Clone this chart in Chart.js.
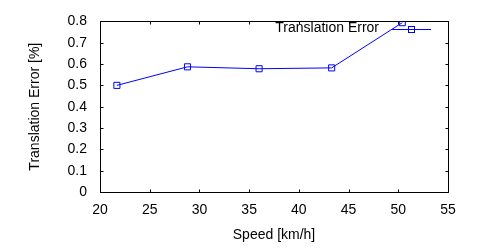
<!DOCTYPE html>
<html>
<head>
<meta charset="utf-8">
<script src="https://cdn.jsdelivr.net/npm/chart.js@4/dist/chart.umd.min.js"></script>
<style>
html,body{margin:0;padding:0;background:#fff;}
#wrap{width:500px;height:250px;}
</style>
</head>
<body>
<div id="wrap"><canvas id="c" width="500" height="250"></canvas></div>
<script>
const speeds = [21.7, 28.8, 36.0, 43.3, 50.4];
const errors = [0.50, 0.587, 0.578, 0.582, 0.794];
const seriesName = 'Translation Error';
const xTicks = [20, 25, 30, 35, 40, 45, 50, 55];
const yTicks = [0, 0.1, 0.2, 0.3, 0.4, 0.5, 0.6, 0.7, 0.8];
const xTitle = 'Speed [km/h]';
const yTitle = 'Translation Error [%]';

const FONT = 'Liberation Sans, Arial, Helvetica, sans-serif';
const FS = 14;
const BLUE = '#0000ff';

const framePlugin = {
  id: 'frame',
  afterDraw(chart) {
    const ctx = chart.ctx;
    const a = chart.chartArea;
    const xs = chart.scales.x, ys = chart.scales.y;
    ctx.save();
    ctx.strokeStyle = '#000';
    ctx.lineWidth = 1;
    const L = Math.round(a.left) + 0.5, R = Math.round(a.right) + 0.5;
    const T = Math.round(a.top) + 0.5, B = Math.round(a.bottom) + 0.5;
    ctx.beginPath();
    ctx.rect(L, T, R - L, B - T);
    const tl = 3;
    xTicks.forEach(v => {
      const px = Math.round(xs.getPixelForValue(v)) + 0.5;
      ctx.moveTo(px, B); ctx.lineTo(px, B - tl);
      ctx.moveTo(px, T); ctx.lineTo(px, T + tl);
    });
    yTicks.forEach(v => {
      const py = Math.round(ys.getPixelForValue(v)) + 0.5;
      ctx.moveTo(L, py); ctx.lineTo(L + tl, py);
      ctx.moveTo(R, py); ctx.lineTo(R - tl, py);
    });
    ctx.stroke();
    // legend (gnuplot style: text then sample)
    const ly = 29.5;
    ctx.fillStyle = '#000';
    ctx.font = FS + 'px ' + FONT;
    ctx.textAlign = 'right';
    ctx.textBaseline = 'middle';
    ctx.fillText(seriesName, 379, 28.5);
    ctx.strokeStyle = BLUE;
    ctx.beginPath();
    ctx.moveTo(392, ly); ctx.lineTo(431, ly);
    ctx.stroke();
    ctx.strokeRect(408.5, ly - 3, 6, 6);
    ctx.restore();
  }
};

new Chart(document.getElementById('c'), {
  type: 'scatter',
  data: {
    datasets: [{
      label: seriesName,
      data: speeds.map((x, i) => ({x: x, y: errors[i]})),
      showLine: true,
      borderColor: BLUE,
      borderWidth: 1,
      pointStyle: 'rect',
      pointRadius: 4.3,
      pointHoverRadius: 4.3,
      pointBorderColor: BLUE,
      pointBackgroundColor: 'rgba(0,0,0,0)',
      pointBorderWidth: 1,
      tension: 0
    }]
  },
  options: {
    responsive: false,
    animation: false,
    devicePixelRatio: 1,
    layout: {padding: {top: 18, right: 52, left: 0, bottom: 0}},
    plugins: {legend: {display: false}, tooltip: {enabled: false}},
    scales: {
      x: {
        type: 'linear', min: 20, max: 55,
        afterBuildTicks(s) { s.ticks = xTicks.map(v => ({value: v})); },
        afterFit(s) { s.height = 58; },
        grid: {display: false, drawTicks: false},
        border: {display: false},
        ticks: {color: '#000', font: {family: FONT, size: FS}, padding: 9.5, maxRotation: 0,
                callback: v => String(v)},
        title: {display: true, text: xTitle, color: '#000', font: {family: FONT, size: FS},
                padding: {top: 0, bottom: 6.6}}
      },
      y: {
        type: 'linear', min: 0, max: 0.8,
        afterBuildTicks(s) { s.ticks = yTicks.map(v => ({value: v})); },
        afterFit(s) { s.width = 100; },
        grid: {display: false, drawTicks: false},
        border: {display: false},
        ticks: {color: '#000', font: {family: FONT, size: FS}, padding: 13,
                callback: v => v === 0 ? '0' : Number(v).toFixed(1)},
        title: {display: true, text: yTitle, color: '#000', font: {family: FONT, size: FS},
                padding: {top: 26.6, bottom: 0}}
      }
    }
  },
  plugins: [framePlugin]
});
</script>
</body>
</html>
